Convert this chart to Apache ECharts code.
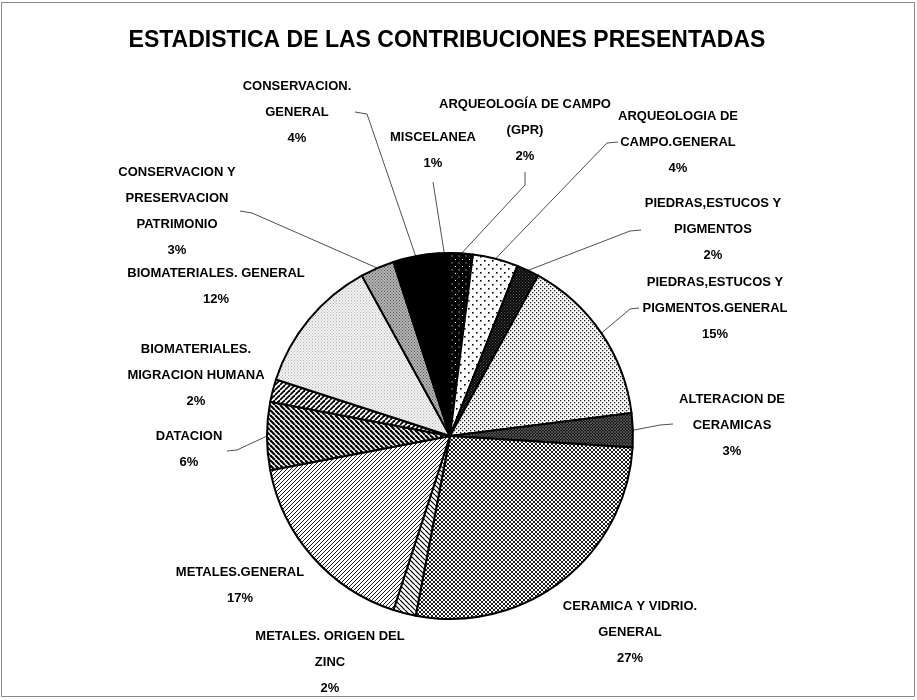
<!DOCTYPE html>
<html>
<head>
<meta charset="utf-8">
<script src="https://cdn.jsdelivr.net/npm/echarts@6/dist/echarts.min.js"></script>
<style>
html,body{margin:0;padding:0;background:#fff;}
#chart{width:917px;height:700px;}
</style>
</head>
<body>
<div id="chart"></div>
<script>
// ---- data ----
var categories = [
  "ARQUEOLOGÍA DE CAMPO\n(GPR)",
  "ARQUEOLOGIA DE\nCAMPO.GENERAL",
  "PIEDRAS,ESTUCOS Y\nPIGMENTOS",
  "PIEDRAS,ESTUCOS Y\nPIGMENTOS.GENERAL",
  "ALTERACION DE\nCERAMICAS",
  "CERAMICA Y VIDRIO.\nGENERAL",
  "METALES. ORIGEN DEL\nZINC",
  "METALES.GENERAL",
  "DATACION",
  "BIOMATERIALES.\nMIGRACION HUMANA",
  "BIOMATERIALES. GENERAL",
  "CONSERVACION Y\nPRESERVACION\nPATRIMONIO",
  "CONSERVACION.\nGENERAL",
  "MISCELANEA"
];
var percents = [2, 4, 2, 15, 3, 27, 2, 17, 6, 2, 12, 3, 4, 1];
var titleText = "ESTADISTICA DE LAS CONTRIBUCIONES PRESENTADAS";

// ---- label layout (label block centre, leader-line bend/end points) ----
var labelPos = [
  [525,130],[678,142],[713,229],[715,308],[732,425],[630,632],[330,662],
  [240,585],[189,449],[196,375],[216,286],[177,211],[297,112],[433,150]
];
var leader = [
  [[525,185],[525,172]],
  [[607,143],[618,142]],
  [[630,231],[641,230]],
  [[630,309],[639,308]],
  [[660,425],[673,424]],
  null, null, null,
  [[237,450],[227,451]],
  null, null,
  [[252,213],[240,211]],
  [[367,114],[355,112]],
  [[433,182]]
];

// ---- fill patterns ----
function tile(size, bg, draw){
  var c = document.createElement('canvas');
  c.width = size; c.height = size;
  var g = c.getContext('2d');
  g.fillStyle = bg; g.fillRect(0,0,size,size);
  if (draw) draw(g, size);
  return {image: c, repeat: 'repeat'};
}
function dots(bg, fg, s, d){
  return tile(s, bg, function(g){
    g.fillStyle = fg;
    g.fillRect(0,0,d,d);
    g.fillRect(s/2,s/2,d,d);
  });
}
function diag(bg, fg, s, lw, dir){
  return tile(s, bg, function(g){
    g.strokeStyle = fg; g.lineWidth = lw;
    for (var k=-1;k<=1;k++){
      g.beginPath();
      if (dir === '/'){ g.moveTo(k*s, s); g.lineTo(k*s+s, 0); }
      else { g.moveTo(k*s, 0); g.lineTo(k*s+s, s); }
      g.stroke();
    }
  });
}
function cross(bg, fg, s, lw){
  return tile(s, bg, function(g){
    g.strokeStyle = fg; g.lineWidth = lw;
    for (var k=-1;k<=1;k++){
      g.beginPath(); g.moveTo(k*s, s); g.lineTo(k*s+s, 0); g.stroke();
      g.beginPath(); g.moveTo(k*s, 0); g.lineTo(k*s+s, s); g.stroke();
    }
  });
}
var fills = [
  dots('#000','#fff',7,1),          // GPR
  dots('#fff','#000',8,1.6),        // arqueologia general
  dots('#0a0a0a','#555',3,1),       // piedras
  dots('#fff','#222',4,1.3),        // piedras general
  cross('#1a1a1a','#666',3,0.7),    // alteracion
  cross('#fff','#000',4,0.9),       // ceramica
  diag('#fff','#000',5,1.2,'\\'),   // zinc
  diag('#fff','#000',4,0.9,'/'),    // metales general
  diag('#fff','#000',5,2.2,'\\'),   // datacion
  diag('#fff','#000',5,1.8,'/'),    // biomat migracion
  dots('#f4f4f4','#b0b0b0',3,1),    // biomat general
  dots('#b5b5b5','#555',3,1),       // conservacion y preservacion
  '#000',                           // conservacion general
  '#000'                            // miscelanea
];

var seriesData = categories.map(function(n, i){
  return {
    name: n,
    value: percents[i],
    itemStyle: {color: fills[i]},
    labelLine: {show: leader[i] !== null}
  };
});

var font = '"Liberation Sans Narrow","Arial Narrow","Liberation Sans",Arial,sans-serif';
var chart = echarts.init(document.getElementById('chart'), null, {renderer: 'canvas'});
chart.setOption({
  backgroundColor: '#fff',
  animation: false,
  title: {
    text: titleText,
    left: 442, top: 24, textAlign: 'center',
    textStyle: {fontFamily: '"Liberation Sans",Arial,sans-serif', fontWeight: 'bold', fontSize: 23, color: '#000'}
  },
  graphic: [{
    type: 'rect', shape: {x: 1.5, y: 2.5, width: 913, height: 694},
    style: {fill: 'none', stroke: '#8a8a8a', lineWidth: 1}, silent: true
  }],
  series: [{
    type: 'pie',
    center: [450, 436],
    radius: 183,
    startAngle: 90,
    clockwise: true,
    avoidLabelOverlap: false,
    data: seriesData,
    itemStyle: {borderColor: '#000', borderWidth: 2},
    label: {
      show: true,
      position: 'outside',
      formatter: function(p){ return p.name + '\n' + p.value + '%'; },
      fontFamily: font, fontWeight: 'bold', fontSize: 13, color: '#000',
      lineHeight: 26, align: 'center'
    },
    labelLine: {show: true, length: 10, length2: 10, lineStyle: {color: '#222', width: 0.8}},
    labelLayout: function(params){
      var i = params.dataIndex;
      var res = {x: labelPos[i][0], y: labelPos[i][1], align: 'center', verticalAlign: 'middle'};
      if (leader[i] && params.labelLinePoints){
        res.labelLinePoints = [params.labelLinePoints[0]].concat(leader[i]);
      }
      return res;
    },
    emphasis: {disabled: true}
  }]
});
</script>
</body>
</html>
